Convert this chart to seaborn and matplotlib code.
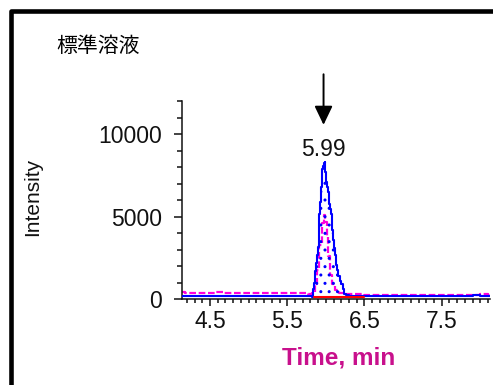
import matplotlib
matplotlib.use("Agg")
import matplotlib.pyplot as plt
from matplotlib.lines import Line2D
from matplotlib.ticker import MultipleLocator, FixedLocator
import pandas as pd
import seaborn as sns

title = "標準溶液"
x_label = "Time, min"
y_label = "Intensity"
peak_rt = 5.99
peak_label = "5.99"

x_ticks = [4.5, 5.5, 6.5, 7.5]
y_ticks = [0, 5000, 10000]

# analyte transition (blue trace)
blue_time = [4.13, 4.23, 4.33, 4.43, 4.53, 4.63, 4.73, 4.83, 4.93, 5.03, 5.13, 5.23,
             5.33, 5.43, 5.53, 5.63, 5.73, 5.80, 5.83, 5.84, 5.85, 5.86, 5.87, 5.88,
             5.89, 5.90, 5.91, 5.92, 5.93, 5.94, 5.95, 5.96, 5.97, 5.98, 5.99, 6.00,
             6.01, 6.02, 6.03, 6.04, 6.05, 6.06, 6.07, 6.08, 6.09, 6.10, 6.11, 6.12,
             6.13, 6.14, 6.15, 6.17, 6.19, 6.21, 6.23, 6.25, 6.28, 6.32, 6.36, 6.45,
             6.55, 6.65, 6.75, 6.85, 6.95, 7.05, 7.15, 7.25, 7.35, 7.45, 7.55, 7.65,
             7.75, 7.85, 7.95, 8.05, 8.15]
blue_int = [190, 200, 180, 190, 210, 190, 180, 200, 190, 170, 190, 200,
            180, 190, 200, 190, 180, 170, 160, 600, 1000, 1300, 1700, 2200,
            2700, 3200, 4000, 5200, 5900, 6800, 7500, 7900, 8100, 8250, 8300, 7700,
            7100, 6800, 6500, 6200, 5800, 5500, 5200, 4700, 4200, 3600, 3100, 2700,
            2400, 2100, 1800, 1400, 1100, 900, 600, 350, 250, 200, 170, 200,
            190, 180, 170, 190, 180, 200, 190, 170, 180, 190, 200, 180,
            190, 190, 280, 200, 190]

# second transition (magenta trace)
mag_time = [4.13, 4.23, 4.33, 4.43, 4.53, 4.63, 4.73, 4.83, 4.93, 5.03, 5.13, 5.23,
            5.33, 5.43, 5.53, 5.63, 5.73, 5.80, 5.84, 5.87, 5.90, 5.93, 5.96, 5.98,
            6.00, 6.02, 6.04, 6.07, 6.10, 6.14, 6.20, 6.30, 6.45, 6.55, 6.65, 6.75,
            6.85, 6.95, 7.05, 7.15, 7.25, 7.35, 7.45, 7.55, 7.65, 7.75, 7.85, 7.95,
            8.05, 8.15]
mag_int = [420, 400, 380, 410, 390, 420, 400, 380, 390, 410, 380, 400,
           390, 370, 390, 380, 360, 340, 400, 900, 1800, 3300, 4600, 5100,
           4700, 3800, 2600, 1500, 900, 550, 400, 320, 300, 280, 290, 270,
           280, 290, 270, 280, 290, 280, 270, 290, 280, 270, 290, 280,
           300, 290]

# integration baseline under the peak (red)
base_time = [5.84, 6.50]
base_int = [110, 110]

blue = pd.DataFrame({"time": blue_time, "intensity": blue_int})
mag = pd.DataFrame({"time": mag_time, "intensity": mag_int})
base = pd.DataFrame({"time": base_time, "intensity": base_int})

sns.set_style("white")
plt.rcParams["font.family"] = ["Liberation Sans", "DejaVu Sans"]

fig = plt.figure(figsize=(4.93, 3.85), dpi=100)
ax = fig.add_axes([0.3686, 0.2226, 0.6253, 0.5138])

sns.lineplot(data=mag, x="time", y="intensity", ax=ax, color="#ff00dd",
             linewidth=1.6, linestyle=(0, (3, 1.2)), drawstyle="steps-mid",
             estimator=None, sort=False, zorder=2)
sns.lineplot(data=blue, x="time", y="intensity", ax=ax, color="#0000ff",
             linewidth=1.5, drawstyle="steps-mid", estimator=None, sort=False,
             zorder=3)

# stippled integrated area
peak = blue[(blue["time"] >= base_time[0]) & (blue["time"] <= base_time[1])]
ax.fill_between(peak["time"], base_int[0], peak["intensity"], step="mid",
                facecolor="none", edgecolor="#0000ff", hatch="..",
                linewidth=0, zorder=2.5)
sns.lineplot(data=base, x="time", y="intensity", ax=ax, color="#ff0000",
             linewidth=1.5, estimator=None, sort=False, zorder=4)

ax.set_xlim(4.133, 8.126)
ax.set_ylim(0, 12000)
ax.xaxis.set_major_locator(FixedLocator(x_ticks))
ax.xaxis.set_minor_locator(MultipleLocator(0.1))
ax.yaxis.set_major_locator(FixedLocator(y_ticks))
ax.yaxis.set_minor_locator(MultipleLocator(1000))
ax.set_xticklabels([f"{v:.1f}" for v in x_ticks])
ax.set_yticklabels([str(v) for v in y_ticks])

for side in ("top", "right"):
    ax.spines[side].set_visible(False)
for side in ("left", "bottom"):
    ax.spines[side].set_linewidth(1.1)
    ax.spines[side].set_color("#111111")

ax.tick_params(axis="both", which="both", left=True, bottom=True,
               color="#111111")
ax.tick_params(axis="y", which="major", direction="out", length=6, width=1.1,
               pad=8, labelsize=16.5, labelcolor="#111111")
ax.tick_params(axis="y", which="minor", direction="out", length=3.6, width=1.1)
ax.tick_params(axis="x", which="major", direction="out", length=5, width=1.1,
               pad=3, labelsize=16.5, labelcolor="#111111")
ax.tick_params(axis="x", which="minor", direction="out", length=3, width=1.1)
ax.set_xlabel("")
ax.set_ylabel("")

# retention time label and marker arrow
ax.text(peak_rt - 0.02, 8700, peak_label, ha="center", va="baseline",
        fontsize=16.5, color="#111111")
ax.annotate("", xy=(peak_rt - 0.02, 10580), xytext=(peak_rt - 0.02, 13650),
            annotation_clip=False,
            arrowprops=dict(arrowstyle="-|>,head_length=1.15,head_width=0.55",
                            mutation_scale=10, lw=1.4, color="black",
                            shrinkA=0, shrinkB=0))

fig.text(0.686, 0.052, x_label, ha="center", va="baseline", fontsize=17.5,
         fontweight="bold", color="#c8108c")
fig.text(0.067, 0.488, y_label, ha="center", va="center", rotation=90,
         fontsize=15, color="#111111")
fig.text(0.115, 0.8805, title, ha="left", va="center", fontsize=15,
         family=["Noto Sans CJK JP", "DejaVu Sans"], color="black")

# thick panel frame along the top and left edges
frame_x = 10.8 / 493
frame_y = 1 - 10.8 / 385
fig.add_artist(Line2D([frame_x, frame_x, 1.05], [-0.05, frame_y, frame_y],
                      transform=fig.transFigure, color="black", lw=3.3,
                      solid_joinstyle="round", solid_capstyle="butt"))

fig.savefig("out.png", dpi=100)
